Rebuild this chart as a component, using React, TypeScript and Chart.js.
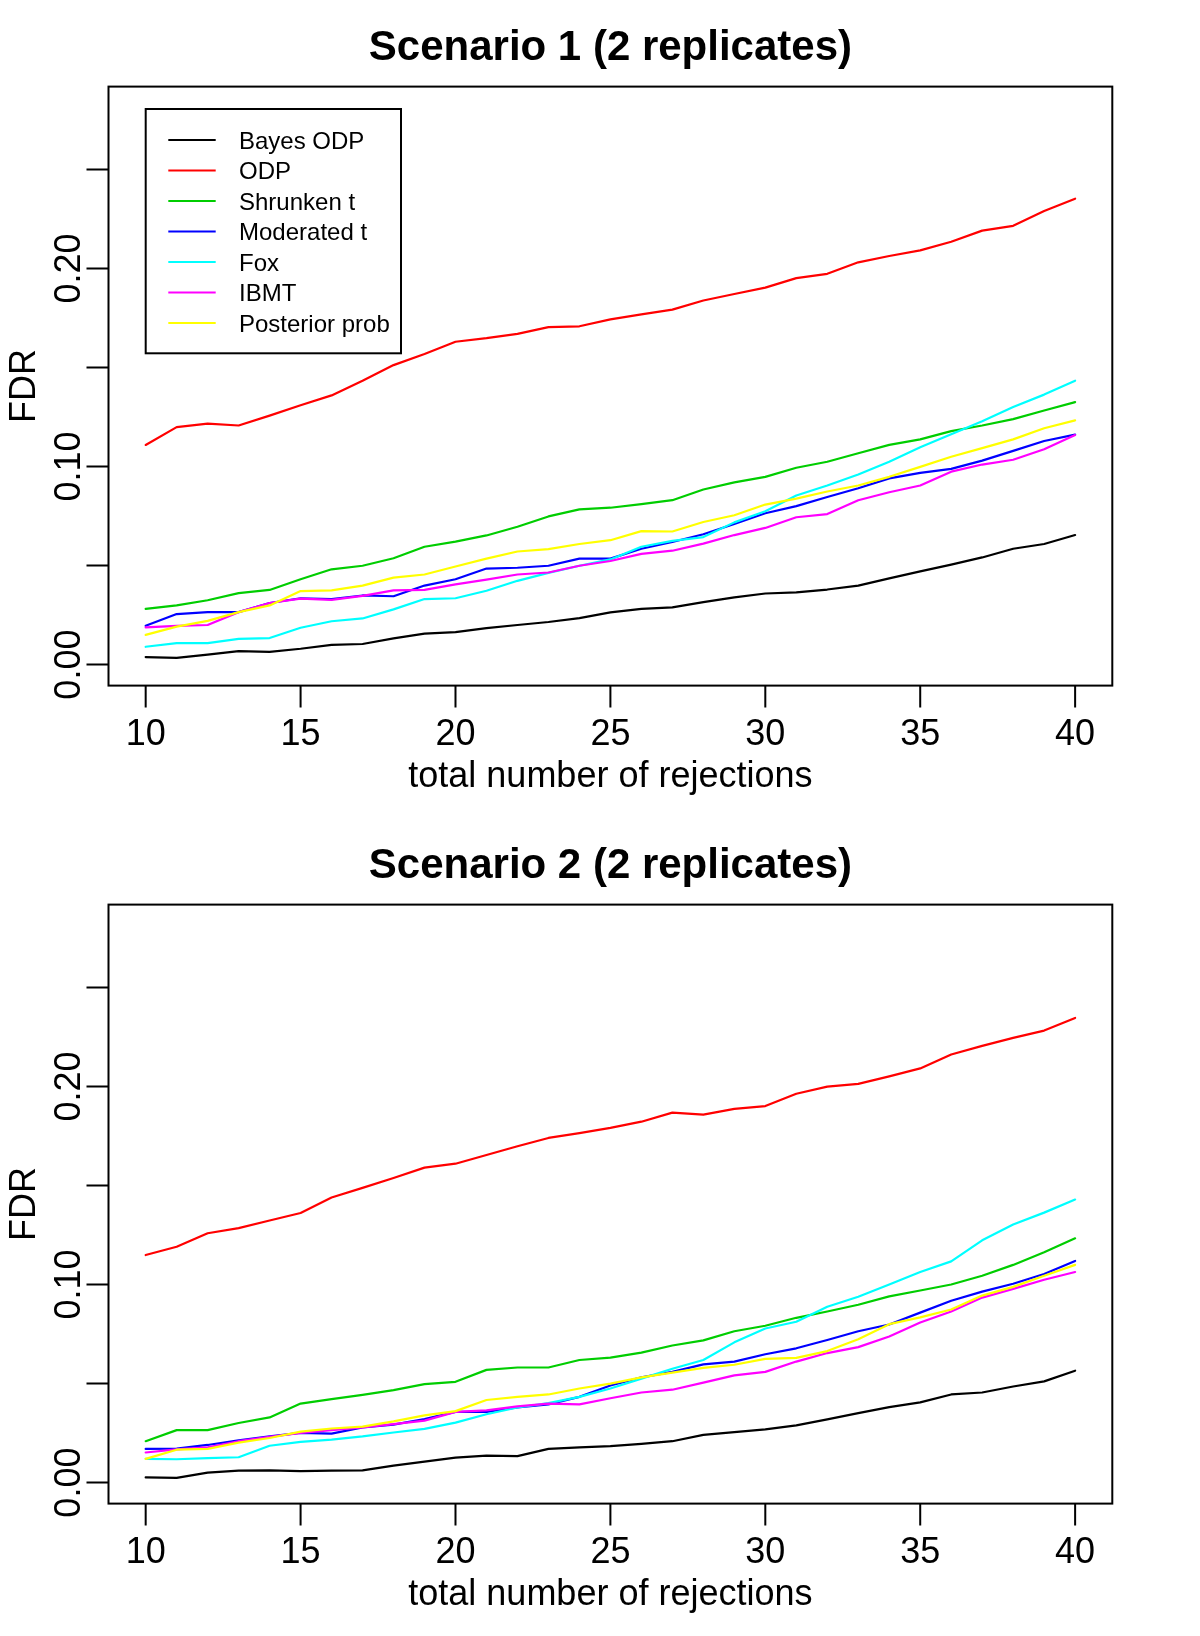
import React, { useEffect, useRef } from "react";
import { Chart, registerables } from "chart.js";

Chart.register(...registerables);

// ---------- data ----------
const rejections = [10, 11, 12, 13, 14, 15, 16, 17, 18, 19, 20, 21, 22, 23, 24, 25, 26, 27, 28, 29, 30, 31, 32, 33, 34, 35, 36, 37, 38, 39, 40];

const seriesNames = ["Bayes ODP", "ODP", "Shrunken t", "Moderated t", "Fox", "IBMT", "Posterior prob"];
const seriesColors = ["#000000", "#FF0000", "#00CD00", "#0000FF", "#00FFFF", "#FF00FF", "#FFFF00"];

const xTicks = [10, 15, 20, 25, 30, 35, 40];
const yTicks = [0, 0.05, 0.1, 0.15, 0.2, 0.25];
const yTickLabels = ["0.00", "", "0.10", "", "0.20", ""];

const titles = ["Scenario 1 (2 replicates)", "Scenario 2 (2 replicates)"];
const xTitle = "total number of rejections";
const yTitle = "FDR";

// Scenario 1
const bayesOdp1 = [0.0038, 0.0034, 0.0050, 0.0068, 0.0064, 0.0080, 0.0100, 0.0104, 0.0132, 0.0156, 0.0164, 0.0184, 0.0200, 0.0215, 0.0235, 0.0264, 0.0281, 0.0289, 0.0315, 0.0339, 0.0359, 0.0365, 0.0379, 0.0399, 0.0435, 0.0471, 0.0505, 0.0541, 0.0585, 0.0609, 0.0654];
const odp1 = [0.1109, 0.1199, 0.1217, 0.1207, 0.1257, 0.1309, 0.1359, 0.1433, 0.1512, 0.1568, 0.1630, 0.1648, 0.1670, 0.1704, 0.1708, 0.1743, 0.1768, 0.1792, 0.1838, 0.1871, 0.1903, 0.1951, 0.1973, 0.2031, 0.2063, 0.2091, 0.2135, 0.2191, 0.2215, 0.2290, 0.2352];
const shrunkenT1 = [0.0281, 0.0299, 0.0325, 0.0361, 0.0377, 0.0431, 0.0481, 0.0499, 0.0537, 0.0595, 0.0621, 0.0652, 0.0696, 0.0748, 0.0784, 0.0792, 0.0810, 0.0830, 0.0884, 0.0920, 0.0948, 0.0994, 0.1024, 0.1067, 0.1109, 0.1137, 0.1179, 0.1207, 0.1239, 0.1283, 0.1325];
const moderatedT1 = [0.0196, 0.0255, 0.0265, 0.0265, 0.0311, 0.0335, 0.0331, 0.0349, 0.0345, 0.0399, 0.0431, 0.0485, 0.0489, 0.0499, 0.0535, 0.0535, 0.0585, 0.0619, 0.0658, 0.0710, 0.0764, 0.0800, 0.0846, 0.0890, 0.0940, 0.0968, 0.0988, 0.1030, 0.1079, 0.1129, 0.1161];
const fox1 = [0.0090, 0.0108, 0.0108, 0.0130, 0.0134, 0.0186, 0.0219, 0.0233, 0.0279, 0.0331, 0.0335, 0.0373, 0.0423, 0.0463, 0.0499, 0.0531, 0.0595, 0.0625, 0.0644, 0.0718, 0.0774, 0.0854, 0.0904, 0.0960, 0.1024, 0.1097, 0.1163, 0.1229, 0.1301, 0.1363, 0.1433];
const ibmt1 = [0.0188, 0.0196, 0.0200, 0.0265, 0.0311, 0.0333, 0.0327, 0.0347, 0.0375, 0.0377, 0.0405, 0.0429, 0.0455, 0.0465, 0.0499, 0.0523, 0.0559, 0.0575, 0.0611, 0.0654, 0.0690, 0.0744, 0.0760, 0.0830, 0.0870, 0.0904, 0.0974, 0.1010, 0.1034, 0.1087, 0.1159];
const posterior1 = [0.0150, 0.0192, 0.0221, 0.0265, 0.0299, 0.0371, 0.0375, 0.0399, 0.0439, 0.0455, 0.0495, 0.0535, 0.0571, 0.0583, 0.0609, 0.0628, 0.0674, 0.0672, 0.0720, 0.0754, 0.0808, 0.0838, 0.0874, 0.0904, 0.0948, 0.0998, 0.1049, 0.1093, 0.1137, 0.1193, 0.1233];

// Scenario 2
const bayesOdp2 = [0.0026, 0.0024, 0.0050, 0.0060, 0.0062, 0.0058, 0.0060, 0.0062, 0.0086, 0.0106, 0.0126, 0.0136, 0.0134, 0.0170, 0.0178, 0.0184, 0.0196, 0.0209, 0.0241, 0.0255, 0.0269, 0.0289, 0.0319, 0.0351, 0.0381, 0.0405, 0.0445, 0.0455, 0.0485, 0.0511, 0.0565];
const odp2 = [0.1149, 0.1191, 0.1259, 0.1285, 0.1323, 0.1361, 0.1439, 0.1488, 0.1538, 0.1590, 0.1610, 0.1654, 0.1698, 0.1740, 0.1764, 0.1791, 0.1822, 0.1868, 0.1858, 0.1887, 0.1901, 0.1963, 0.1999, 0.2013, 0.2051, 0.2091, 0.2161, 0.2205, 0.2245, 0.2282, 0.2346];
const shrunkenT2 = [0.0209, 0.0265, 0.0265, 0.0301, 0.0329, 0.0399, 0.0421, 0.0443, 0.0467, 0.0497, 0.0509, 0.0569, 0.0581, 0.0581, 0.0619, 0.0631, 0.0656, 0.0692, 0.0718, 0.0764, 0.0792, 0.0832, 0.0864, 0.0898, 0.0940, 0.0970, 0.1000, 0.1044, 0.1099, 0.1163, 0.1233];
const moderatedT2 = [0.0170, 0.0172, 0.0190, 0.0213, 0.0233, 0.0251, 0.0247, 0.0279, 0.0293, 0.0321, 0.0357, 0.0357, 0.0379, 0.0395, 0.0433, 0.0490, 0.0531, 0.0559, 0.0597, 0.0611, 0.0648, 0.0678, 0.0720, 0.0764, 0.0798, 0.0858, 0.0918, 0.0964, 0.1004, 0.1053, 0.1119];
const fox2 = [0.0120, 0.0118, 0.0124, 0.0128, 0.0186, 0.0206, 0.0217, 0.0233, 0.0253, 0.0271, 0.0303, 0.0345, 0.0379, 0.0401, 0.0433, 0.0475, 0.0525, 0.0575, 0.0619, 0.0708, 0.0778, 0.0812, 0.0888, 0.0938, 0.1000, 0.1063, 0.1117, 0.1223, 0.1303, 0.1363, 0.1429];
const ibmt2 = [0.0152, 0.0168, 0.0178, 0.0209, 0.0231, 0.0251, 0.0265, 0.0279, 0.0295, 0.0313, 0.0357, 0.0365, 0.0385, 0.0399, 0.0395, 0.0426, 0.0455, 0.0469, 0.0505, 0.0541, 0.0559, 0.0611, 0.0654, 0.0684, 0.0738, 0.0808, 0.0864, 0.0934, 0.0978, 0.1024, 0.1063];
const posterior2 = [0.0120, 0.0166, 0.0170, 0.0202, 0.0225, 0.0257, 0.0273, 0.0283, 0.0309, 0.0339, 0.0361, 0.0417, 0.0433, 0.0445, 0.0475, 0.0500, 0.0531, 0.0555, 0.0579, 0.0595, 0.0625, 0.0630, 0.0664, 0.0724, 0.0800, 0.0834, 0.0874, 0.0944, 0.0988, 0.1044, 0.1099];

const scenario1 = [bayesOdp1, odp1, shrunkenT1, moderatedT1, fox1, ibmt1, posterior1];
const scenario2 = [bayesOdp2, odp2, shrunkenT2, moderatedT2, fox2, ibmt2, posterior2];

// ---------- drawing ----------
const FONT = '"Liberation Sans", Arial, Helvetica, sans-serif';
const W = 1200;
const H = 818;

const rFramePlugin = {
  id: "rFrame",
  afterDraw(chart: any, _args: any, opts: any) {
    const { ctx, chartArea: a, scales } = chart;
    const x = scales.x;
    const y = scales.y;
    ctx.save();
    ctx.strokeStyle = "#000";
    ctx.fillStyle = "#000";
    ctx.lineWidth = 2;
    ctx.lineCap = "butt";

    // box
    ctx.strokeRect(a.left, a.top, a.right - a.left, a.bottom - a.top);

    // ticks
    ctx.beginPath();
    xTicks.forEach((v) => {
      const px = x.getPixelForValue(v);
      ctx.moveTo(px, a.bottom);
      ctx.lineTo(px, a.bottom + 22);
    });
    yTicks.forEach((v) => {
      const py = y.getPixelForValue(v);
      ctx.moveTo(a.left, py);
      ctx.lineTo(a.left - 22, py);
    });
    ctx.stroke();

    // x tick labels
    ctx.font = `36px ${FONT}`;
    ctx.textAlign = "center";
    ctx.textBaseline = "alphabetic";
    xTicks.forEach((v) => {
      ctx.fillText(String(v), x.getPixelForValue(v), a.bottom + 59);
    });

    // y tick labels (rotated)
    yTicks.forEach((v, i) => {
      const lab = yTickLabels[i];
      if (!lab) return;
      ctx.save();
      ctx.translate(a.left - 28.5, y.getPixelForValue(v));
      ctx.rotate(-Math.PI / 2);
      ctx.fillText(lab, 0, 0);
      ctx.restore();
    });

    const cx = (a.left + a.right) / 2;
    const cy = (a.top + a.bottom) / 2;

    // axis titles
    ctx.fillText(xTitle, cx, a.bottom + 101);
    ctx.save();
    ctx.translate(a.left - 73.5, cy);
    ctx.rotate(-Math.PI / 2);
    ctx.fillText(yTitle, 0, 0);
    ctx.restore();

    // main title
    ctx.font = `bold 42px ${FONT}`;
    ctx.fillText(opts.title, cx, a.top - 26.6);

    // legend (first panel only)
    if (opts.showLegend) {
      const lx = a.left + 37.2;
      const ly = a.top + 22.4;
      ctx.lineWidth = 2;
      ctx.strokeStyle = "#000";
      ctx.strokeRect(lx, ly, 255.3, 244.3);
      ctx.font = `24px ${FONT}`;
      ctx.textAlign = "left";
      seriesNames.forEach((name, i) => {
        const ry = a.top + 53.4 + 30.5 * i;
        ctx.strokeStyle = seriesColors[i];
        ctx.beginPath();
        ctx.moveTo(a.left + 59.8, ry);
        ctx.lineTo(a.left + 107.2, ry);
        ctx.stroke();
        ctx.fillStyle = "#000";
        ctx.fillText(name, a.left + 130.5, ry + 8.5);
      });
    }

    ctx.restore();
  },
};

function FdrChart({ title, series, showLegend }: { title: string; series: number[][]; showLegend: boolean }) {
  const ref = useRef<HTMLCanvasElement | null>(null);

  useEffect(() => {
    if (!ref.current) return;
    const datasets = series.map((vals, i) => ({
      label: seriesNames[i],
      data: rejections.map((r, j) => ({ x: r, y: vals[j] })),
      borderColor: seriesColors[i],
      backgroundColor: seriesColors[i],
      borderWidth: 2.2,
      pointRadius: 0,
      pointHoverRadius: 0,
      tension: 0,
      fill: false,
      borderCapStyle: "round" as const,
      borderJoinStyle: "round" as const,
      order: seriesNames.length - 1 - i,
    }));
    const chart = new Chart(ref.current, {
      type: "line",
      data: { datasets },
      options: {
        animation: false,
        responsive: false,
        devicePixelRatio: 1,
        events: [],
        layout: { padding: { left: 108.5, top: 86.6, right: 87.7, bottom: 132.4 } },
        scales: {
          x: { type: "linear", min: 8.8, max: 41.2, display: false },
          y: { type: "linear", min: -0.0106, max: 0.2918, display: false },
        },
        plugins: {
          legend: { display: false },
          tooltip: { enabled: false },
          title: { display: false },
          rFrame: { title, showLegend },
        } as any,
      },
      plugins: [rFramePlugin],
    });
    return () => chart.destroy();
  }, [title, series, showLegend]);

  return <canvas ref={ref} width={W} height={H} style={{ display: "block", width: W, height: H }} />;
}

export default function App() {
  return (
    <div style={{ position: "absolute", left: 0, top: 0, width: W, height: 2 * H, background: "#fff" }}>
      <FdrChart title={titles[0]} series={scenario1} showLegend={true} />
      <FdrChart title={titles[1]} series={scenario2} showLegend={false} />
    </div>
  );
}
